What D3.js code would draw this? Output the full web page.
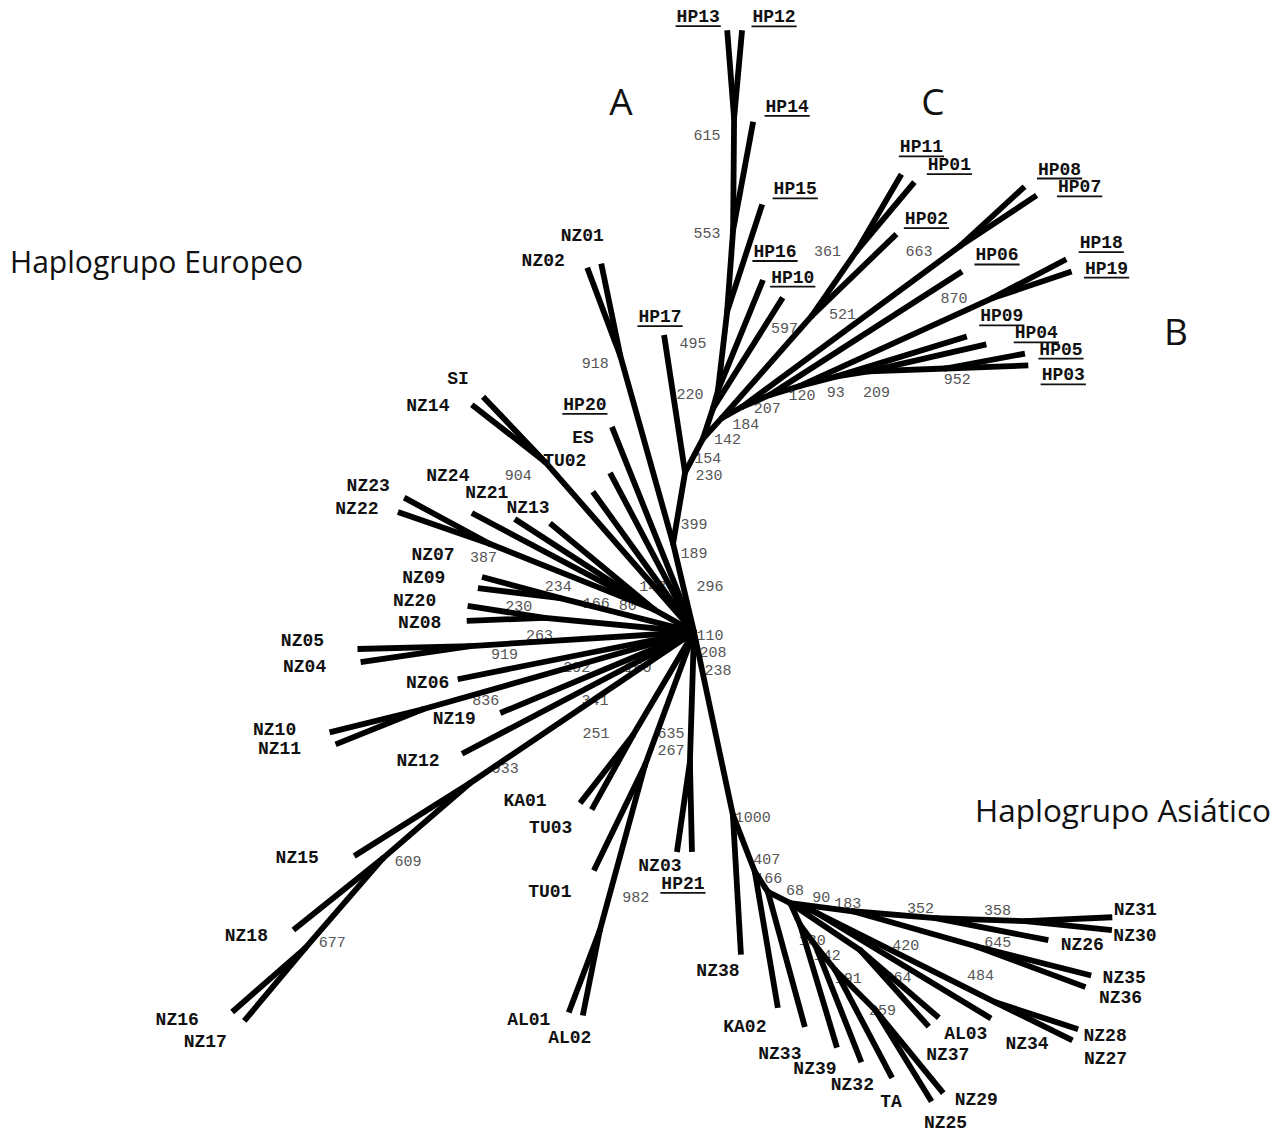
<!DOCTYPE html>
<html>
<head>
<meta charset="utf-8">
<script src="https://cdn.jsdelivr.net/npm/d3@7"></script>
<style>
  html, body { margin: 0; padding: 0; background: #fff; }
  svg { display: block; }
</style>
</head>
<body>
<div id="chart"></div>
<script>
// unrooted tree, branches as [node, parent, length, angle]
// length in tree units, angle in degrees (0 = east, counter-clockwise)
const upperBranches = [
    ['T1', 'hub', 9.1, 103.3],
    ['N12', 'T1', 19.5, 105.7],
    ['NZ01', 'N12', 9.4, 101.7],
    ['NZ02', 'N12', 9.4, 110.6],
    ['T2', 'T1', 7.2, 80.4],
    ['HP17', 'T2', 13.9, 98.7],
    ['T3', 'T2', 3.8, 62.1],
    ['A1', 'T3', 3.2, 71.6],
    ['HP10', 'A1', 13.1, 57.8],
    ['A2', 'A1', 1.9, 74.5],
    ['HP16', 'A2', 11.9, 67.8],
    ['A3', 'A2', 7.9, 83.4],
    ['HP15', 'A3', 11.3, 71.9],
    ['A4', 'A3', 8.2, 85.8],
    ['HP14', 'A4', 11.0, 79.5],
    ['A5', 'A4', 11.2, 89.5],
    ['HP13', 'A5', 8.8, 94.5],
    ['HP12', 'A5', 8.8, 84.8],
    ['C1', 'T3', 2.8, 47.9],
    ['C4', 'C1', 13.6, 48.6],
    ['HP02', 'C4', 11.8, 44.0],
    ['C5', 'C4', 7.9, 55.3],
    ['HP11', 'C5', 8.9, 59.7],
    ['HP01', 'C5', 9.0, 50.0],
    ['C2', 'C1', 2.3, 28.8],
    ['B1', 'C2', 27.1, 36.4],
    ['HP08', 'B1', 8.8, 42.7],
    ['HP07', 'B1', 9.2, 33.5],
    ['C3', 'C2', 3.0, 23.2],
    ['HP06', 'C3', 22.9, 32.7],
    ['C6', 'C3', 3.1, 16.7],
    ['B2', 'C6', 21.2, 24.5],
    ['HP18', 'B2', 8.4, 27.8],
    ['HP19', 'B2', 8.4, 18.6],
    ['C7', 'C6', 3.9, 14.7],
    ['HP09', 'C7', 13.6, 17.1],
    ['C8', 'C7', 3.2, 8.9],
    ['HP04', 'C8', 12.1, 12.9],
    ['C9', 'C8', 7.7, 2.2],
    ['HP05', 'C9', 8.1, 10.6],
    ['HP03', 'C9', 8.3, 2.1]
];

const europeanBranches = [
    ['U1', 'hub', 4.5, 150.6],
    ['NZ13', 'U1', 13.6, 140.4],
    ['NZ21', 'U1', 16.7, 147.0],
    ['NZ24', 'U1', 20.7, 152.1],
    ['P23', 'U1', 17.8, 158.2],
    ['NZ23', 'P23', 9.7, 151.6],
    ['NZ22', 'P23', 9.7, 160.8],
    ['S1', 'hub', 22.6, 131.2],
    ['SI', 'S1', 9.0, 133.6],
    ['NZ14', 'S1', 9.3, 142.0],
    ['HP20', 'hub', 22.1, 111.8],
    ['ES', 'hub', 18.0, 117.8],
    ['TU02', 'hub', 17.3, 125.8],
    ['P07', 'hub', 13.8, 165.8],
    ['NZ07', 'P07', 8.1, 164.9],
    ['NZ09', 'P07', 8.3, 173.0],
    ['P20', 'hub', 15.0, 174.6],
    ['NZ20', 'P20', 7.8, 171.1],
    ['NZ08', 'P20', 7.8, 182.2],
    ['P05', 'hub', 22.4, 183.6],
    ['NZ05', 'P05', 11.3, 181.5],
    ['NZ04', 'P05', 11.1, 188.3],
    ['NZ06', 'hub', 24.1, 191.3],
    ['P10', 'hub', 28.2, 195.9],
    ['NZ10', 'P10', 9.6, 193.9],
    ['NZ11', 'P10', 9.4, 201.9],
    ['NZ19', 'hub', 21.0, 202.7],
    ['NZ12', 'hub', 26.2, 207.7],
    ['Q1', 'hub', 27.0, 214.0],
    ['NZ15', 'Q1', 13.7, 212.2],
    ['Q2', 'Q1', 11.5, 220.8],
    ['NZ18', 'Q2', 11.5, 218.7],
    ['Q3', 'Q2', 11.9, 229.1],
    ['NZ16', 'Q3', 9.7, 221.2],
    ['NZ17', 'Q3', 9.5, 230.1],
    ['PK', 'hub', 12.0, 239.4],
    ['KA01', 'PK', 8.6, 232.1],
    ['TU03', 'PK', 8.5, 241.0],
    ['R1', 'hub', 14.2, 249.8],
    ['TU01', 'R1', 11.7, 244.1],
    ['R2', 'R1', 17.1, 254.7],
    ['AL01', 'R2', 8.8, 249.3],
    ['AL02', 'R2', 8.7, 258.7],
    ['P03', 'hub', 13.0, 268.2],
    ['NZ03', 'P03', 9.1, 261.8],
    ['HP21', 'P03', 9.0, 271.3]
];

const asianBranches = [
    ['D1', 'hub', 18.7, 282.0],
    ['NZ38', 'D1', 14.0, 273.3],
    ['D2', 'D1', 6.1, 291.1],
    ['KA02', 'D2', 13.8, 279.6],
    ['D3', 'D2', 2.4, 303.0],
    ['NZ33', 'D3', 14.0, 285.3],
    ['D4', 'D3', 2.5, 333.4],
    ['E1', 'D4', 6.3, 352.6],
    ['E2', 'E1', 8.3, 355.2],
    ['E3', 'E2', 9.0, 358.1],
    ['NZ31', 'E3', 8.7, 2.6],
    ['NZ30', 'E3', 8.7, 354.1],
    ['NZ26', 'E2', 11.5, 349.0],
    ['E4', 'E1', 12.8, 344.1],
    ['NZ35', 'E4', 11.9, 345.8],
    ['NZ36', 'E4', 11.7, 339.6],
    ['E5', 'D4', 2.7, 340.2],
    ['E6', 'E5', 20.1, 333.4],
    ['NZ28', 'E6', 8.7, 342.0],
    ['NZ27', 'E6', 8.6, 333.7],
    ['NZ34', 'E5', 20.5, 328.8],
    ['F1', 'D4', 2.4, 294.4],
    ['NZ39', 'F1', 12.8, 286.7],
    ['F2', 'F1', 2.5, 306.9],
    ['NZ32', 'F2', 12.6, 291.5],
    ['F3', 'F2', 3.2, 308.7],
    ['TA', 'F3', 12.2, 297.8],
    ['F4', 'F3', 5.7, 315.0],
    ['NZ25', 'F4', 10.7, 301.6],
    ['NZ29', 'F4', 10.7, 309.3],
    ['G1', 'D4', 8.4, 326.1],
    ['AL03', 'G1', 10.4, 319.3],
    ['NZ37', 'G1', 10.3, 311.9]
];

// bootstrap support (of 1000 replicates) at internal nodes
const support = [
    ['hub', 296], ['hub', 110], ['hub', 208], ['hub', 238], ['hub', 160], ['hub', 341],
    ['T1', 399], ['T1', 189], ['T2', 230], ['T3', 154],
    ['C1', 142], ['C2', 184], ['C3', 207], ['C6', 120], ['C7', 93], ['C8', 209], ['C9', 952],
    ['B2', 870], ['B1', 663], ['C4', 521], ['C4', 597], ['C5', 361],
    ['A5', 615], ['A4', 553], ['A3', 495], ['A2', 220],
    ['N12', 918], ['S1', 904], ['P23', 387], ['P07', 234], ['P07', 166],
    ['U1', 148], ['U1', 80], ['P20', 230], ['P05', 263], ['P05', 919],
    ['P10', 292], ['P10', 836], ['PK', 251], ['Q1', 933], ['Q2', 609], ['Q3', 677],
    ['P03', 635], ['P03', 267], ['R2', 982],
    ['D1', 1000], ['D2', 407], ['D2', 166], ['D3', 68], ['D4', 90],
    ['E1', 183], ['E2', 352], ['E3', 358], ['E4', 645], ['E5', 420], ['E6', 484],
    ['F1', 130], ['F2', 142], ['F3', 191], ['F4', 259], ['G1', 264]
];

const cladeLetters = ['A', 'C', 'B'];
const groupTitles = ['Haplogrupo Europeo', 'Haplogrupo Asiático'];

// ---- layout (pixels) ----
const W = 1283, H = 1133;

const labelOffset = {
    HP13: [-29, -14], HP12: [32, -14], HP14: [34, -16], HP15: [33, -16], HP16: [12, -29],
    HP10: [10, -21], HP17: [-4, -19], HP11: [20, -28], HP01: [35, -18], HP02: [30, -16],
    HP08: [35, -18], HP07: [43, -9], HP06: [35, -17], HP18: [35, -17], HP19: [35, -4],
    HP09: [35, -21], HP04: [50, -12], HP05: [36, -5], HP03: [35, 9],
    NZ01: [-19, -29], NZ02: [-44, -8], SI: [-25, -19], NZ14: [-44, 0],
    HP20: [-27, -23], ES: [-27, -36], TU02: [-28, -32],
    NZ24: [-24, -38], NZ21: [-28, -27], NZ13: [-22, -16], NZ23: [-36, -13], NZ22: [-41, -4],
    NZ07: [-49, -23], NZ09: [-54, -11], NZ20: [-53, -6], NZ08: [-47, 1],
    NZ05: [-55, -9], NZ04: [-56, 4], NZ06: [-30, 3], NZ10: [-55, -3], NZ11: [-56, 4],
    NZ19: [-46, 5], NZ12: [-44, 6], NZ15: [-57, 1], NZ18: [-47, 5], NZ16: [-55, 7], NZ17: [-39, 20],
    KA01: [-55, -3], TU03: [-41, 17], TU01: [-44, 20], AL01: [-40, 6], AL02: [-13, 21],
    NZ03: [-17, 13], HP21: [-9, 31], NZ38: [-23, 15], KA02: [-33, 18],
    NZ33: [-25, 26], NZ39: [-22, 20], NZ32: [-9, 22], TA: [-1, 23], NZ25: [14, 21], NZ29: [33, 6],
    NZ37: [19, 27], AL03: [27, 15], NZ34: [36, 25], NZ28: [27, 6], NZ27: [33, 18],
    NZ35: [33, 1], NZ36: [35, 10], NZ26: [34, 4], NZ31: [23, -8], NZ30: [23, 5]
};

const supportOffset = {
    'hub:296': [16, -46], 'hub:110': [16, 3], 'hub:208': [19, 20], 'hub:238': [24, 38],
    'hub:160': [-56, 35], 'hub:341': [-99, 68],
    'T1:399': [21, -19], 'T1:189': [21, 10], 'T2:230': [24, 3], 'T3:154': [5, 19],
    'C1:142': [6, 21], 'C2:184': [4, 17], 'C3:207': [-2, 13], 'C6:120': [3, 9], 'C7:93': [-1, 16],
    'C8:209': [8, 21], 'C9:952': [12, 11], 'B2:870': [-38, 0], 'B1:663': [-41, 5],
    'C4:521': [31, -2], 'C4:597': [-27, 12], 'C5:361': [-29, 0],
    'A5:615': [-27, 17], 'A4:553': [-26, 3], 'A3:495': [-34, 31], 'A2:220': [-28, 4],
    'N12:918': [-25, 7], 'S1:904': [-27, 13], 'P23:387': [-6, 13], 'P07:234': [-2, -12],
    'P07:166': [36, 5], 'U1:148': [-2, -24], 'U1:80': [-27, -5], 'P20:230': [-26, -12],
    'P05:263': [69, -11], 'P05:919': [34, 8], 'P10:292': [154, -42], 'P10:836': [63, -9],
    'PK:251': [-37, -2], 'Q1:933': [35, -15], 'Q2:609': [25, 3], 'Q3:677': [27, -6],
    'P03:635': [-19, -29], 'P03:267': [-19, -12], 'R2:982': [36, -33],
    'D1:1000': [20, 2], 'D2:407': [12, -13], 'D2:166': [14, 6], 'D3:68': [27, -2], 'D4:90': [31, -6],
    'E1:183': [-5, -8], 'E2:352': [-15, -10], 'E3:358': [-28, -11], 'E4:645': [22, -4],
    'E5:420': [90, 33], 'E6:484': [-15, -27], 'F1:130': [12, 15], 'F2:142': [12, 10],
    'F3:191': [13, 8], 'F4:259': [7, 0], 'G1:264': [38, 27]
};

// tree units -> pixels (1 unit = 10 px, hub near the middle)
const x = d3.scaleLinear().domain([-69.4, 58.9]).range([0, W]);
const y = d3.scaleLinear().domain([-50.1, 63.2]).range([H, 0]);

// build node positions by walking branches outward from the hub
const nodes = new Map([['hub', { id: 'hub', u: 0, v: 0 }]]);
const allBranches = [...upperBranches, ...europeanBranches, ...asianBranches];
allBranches.forEach(([id, parentId, len, ang]) => {
    const p = nodes.get(parentId);
    const r = ang * Math.PI / 180;
    nodes.set(id, { id, parent: p, u: p.u + len * Math.cos(r), v: p.v + len * Math.sin(r) });
});
const parents = new Set(allBranches.map(b => b[1]));
const leaves = [...nodes.values()].filter(n => !parents.has(n.id));
const internals = [...nodes.values()].filter(n => parents.has(n.id));
const edges = [...nodes.values()].filter(n => n.parent);

const svg = d3.select('#chart').append('svg')
    .attr('width', W)
    .attr('height', H)
    .attr('viewBox', `0 0 ${W} ${H}`);

svg.append('rect').attr('width', W).attr('height', H).attr('fill', '#fff');

// bootstrap values sit under the branches
svg.append('g')
    .attr('font-family', "'Liberation Mono', 'DejaVu Sans Mono', monospace")
    .attr('font-size', 15)
    .attr('fill', '#555')
    .attr('text-anchor', 'middle')
    .selectAll('text')
    .data(support)
    .join('text')
    .attr('x', d => x(nodes.get(d[0]).u) + supportOffset[d[0] + ':' + d[1]][0])
    .attr('y', d => y(nodes.get(d[0]).v) + supportOffset[d[0] + ':' + d[1]][1] + 5)
    .text(d => d[1]);

const tree = svg.append('g');
tree.selectAll('line.branch')
    .data(edges)
    .join('line')
    .classed('branch', true)
    .attr('x1', d => x(d.parent.u)).attr('y1', d => y(d.parent.v))
    .attr('x2', d => x(d.u)).attr('y2', d => y(d.v))
    .attr('stroke', '#000')
    .attr('stroke-width', 5.8)
    .attr('stroke-linecap', 'butt');

// fill the joints so branches meet cleanly
tree.selectAll('circle.joint')
    .data(internals)
    .join('circle')
    .classed('joint', true)
    .attr('cx', d => x(d.u)).attr('cy', d => y(d.v))
    .attr('r', 2.9)
    .attr('fill', '#000');

// tip labels, HP haplotypes underlined
const tipG = svg.append('g')
    .attr('font-family', "'Liberation Mono', 'Courier New', monospace")
    .attr('font-weight', 'bold')
    .attr('font-size', 18)
    .attr('fill', '#111')
    .attr('text-anchor', 'middle');

leaves.forEach(n => {
    const off = labelOffset[n.id] || [0, 0];
    const cx = x(n.u) + off[0], cy = y(n.v) + off[1];
    const t = tipG.append('text').attr('x', cx).attr('y', cy + 6).text(n.id);
    if (n.id.startsWith('HP')) {
        const w = t.node().getComputedTextLength();
        tipG.append('line')
            .attr('x1', cx - w / 2 - 1).attr('x2', cx + w / 2 + 1)
            .attr('y1', cy + 10).attr('y2', cy + 10)
            .attr('stroke', '#111').attr('stroke-width', 1.8);
    }
});

// clade letters and group titles
const letterPos = { A: [621, 115], C: [933, 115], B: [1176, 345] };
svg.append('g')
    .attr('font-family', "'Open Sans', 'DejaVu Sans', sans-serif")
    .attr('font-size', 37)
    .attr('fill', '#111')
    .attr('text-anchor', 'middle')
    .selectAll('text')
    .data(cladeLetters)
    .join('text')
    .attr('x', d => letterPos[d][0])
    .attr('y', d => letterPos[d][1])
    .text(d => d);

const titlePos = [[10, 273, 293], [975, 822, 296]];
svg.append('g')
    .attr('font-family', "'Open Sans', 'DejaVu Sans', sans-serif")
    .attr('font-size', 31)
    .attr('fill', '#111')
    .selectAll('text')
    .data(groupTitles)
    .join('text')
    .attr('x', (d, i) => titlePos[i][0])
    .attr('y', (d, i) => titlePos[i][1])
    .attr('textLength', (d, i) => titlePos[i][2])
    .attr('lengthAdjust', 'spacingAndGlyphs')
    .text(d => d);
</script>
</body>
</html>
